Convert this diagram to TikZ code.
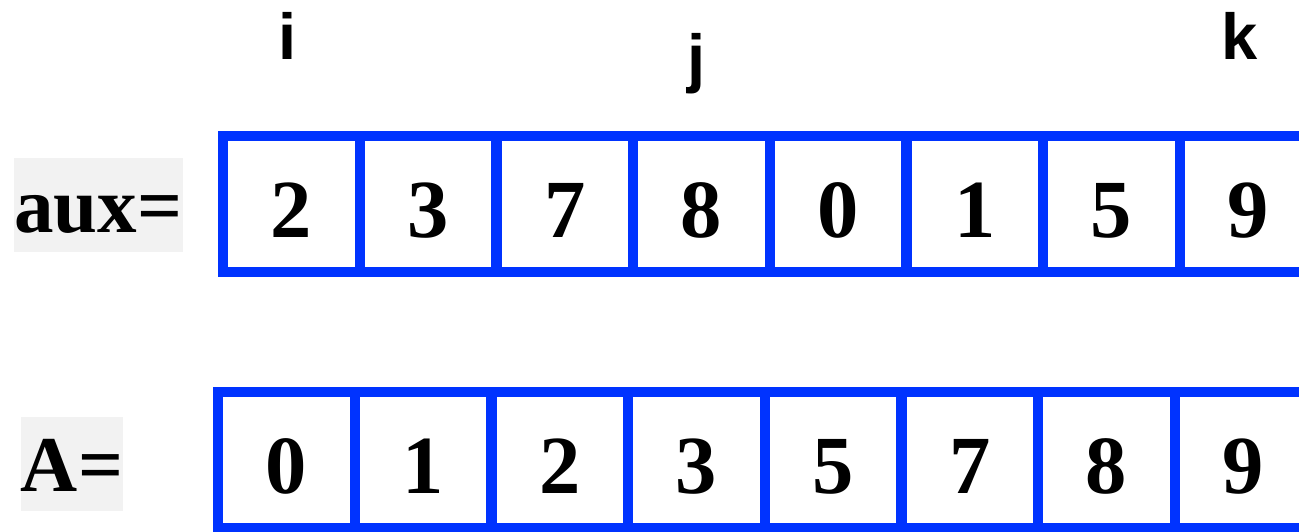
\documentclass[tikz,border=0pt]{standalone}
\usepackage{fontspec}
\setmainfont{Liberation Serif}
\newfontfamily\idxfont{Liberation Sans}
\usepackage{xcolor}
\usepackage{tikz}
\definecolor{cellblue}{HTML}{0033FF}
\definecolor{lblgray}{HTML}{F2F2F2}

\begin{document}
\begin{tikzpicture}[
    cell/.style={draw=cellblue, line width=0.2cm, minimum width=2.734cm, minimum height=2.72cm,
                 inner sep=0pt, outer sep=0pt, font=\fontsize{47}{50}\selectfont\bfseries,
                 text height=1.34cm, text depth=0pt},
    lbl/.style={fill=lblgray, minimum height=1.88cm, inner sep=0pt,
                font=\fontsize{45}{48}\selectfont\bfseries, text height=1.1cm, text depth=0pt},
    idx/.style={anchor=base, inner sep=0pt, font=\idxfont\fontsize{37}{40}\selectfont\bfseries},
]
\useasboundingbox (0,0) rectangle (25.98,10.62);
\clip (0,0) rectangle (25.98,10.62);

% Index markers
\node[idx] (idxi) at (5.76, 9.42) {i};
\node[idx] (idxj) at (13.94, 9.0) {j};
\node[idx] (idxk) at (24.8, 9.42) {k};

% Row labels
\node[lbl, minimum width=3.3cm] (auxlbl) at (1.97, 6.52) {aux=};
\node[lbl, minimum width=2.0cm] (albl) at (1.44, 1.34) {A=};

% aux array
\node[cell] (aux0) at (5.83, 6.54) {2};
\node[cell] (aux1) at (8.56, 6.54) {3};
\node[cell] (aux2) at (11.30, 6.54) {7};
\node[cell] (aux3) at (14.03, 6.54) {8};
\node[cell] (aux4) at (16.76, 6.54) {0};
\node[cell] (aux5) at (19.50, 6.54) {1};
\node[cell] (aux6) at (22.23, 6.54) {5};
\node[cell] (aux7) at (24.97, 6.54) {9};

% A array
\node[cell] (a0) at (5.73, 1.42) {0};
\node[cell] (a1) at (8.46, 1.42) {1};
\node[cell] (a2) at (11.20, 1.42) {2};
\node[cell] (a3) at (13.93, 1.42) {3};
\node[cell] (a4) at (16.66, 1.42) {5};
\node[cell] (a5) at (19.40, 1.42) {7};
\node[cell] (a6) at (22.13, 1.42) {8};
\node[cell] (a7) at (24.87, 1.42) {9};
\end{tikzpicture}
\end{document}
